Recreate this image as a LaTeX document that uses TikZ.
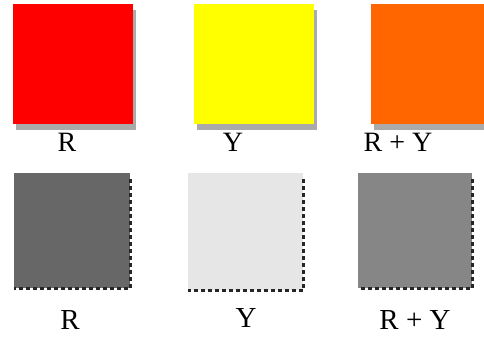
\documentclass[tikz,border=0pt]{standalone}
\usepackage{fontspec}
\setmainfont{Liberation Serif}
\usetikzlibrary{shadows}
\definecolor{cred}{HTML}{FF0000}
\definecolor{cyel}{HTML}{FFFF00}
\definecolor{corg}{HTML}{FF6600}
\definecolor{cshadow}{HTML}{AAAAAA}
\definecolor{gdark}{HTML}{676767}
\definecolor{glight}{HTML}{E6E6E6}
\definecolor{gmid}{HTML}{868686}
\begin{document}
\begin{tikzpicture}[x=1pt,y=-1pt,
  sq/.style={draw=none,inner sep=0pt,minimum width=120pt,minimum height=120pt,
    general shadow={fill=cshadow,shadow xshift=3pt,shadow yshift=-6pt}},
  gsq/.style={draw=none,inner sep=0pt,anchor=north west},
  lbl/.style={inner sep=0pt,font=\fontsize{28}{28}\selectfont},
  lblb/.style={inner sep=0pt,font=\fontsize{29}{29}\selectfont},
  dotedge/.style={draw=black!85,line width=3.2pt,dash pattern=on 3.5pt off 3.5pt}]
\useasboundingbox (0,0) rectangle (484,337);
\clip (0,0) rectangle (484,337);
% top row
\node[sq,fill=cred] (r) at (73,64) {};
\node[sq,fill=cyel] (y) at (254,64) {};
\node[sq,fill=corg] (o) at (431,64) {};
\node[lbl] (rl) at (67,142) {R};
\node[lbl] (yl) at (233,142) {Y};
\node[lbl] (ol) at (398,142) {R + Y};
% bottom row
\node[gsq,fill=gdark,minimum width=116pt,minimum height=115pt] (gr) at (14,173) {};
\node[gsq,fill=glight,minimum width=115pt,minimum height=117pt] (gy) at (188,173) {};
\node[gsq,fill=gmid,minimum width=114pt,minimum height=115pt] (go) at (358,173) {};
\draw[dotedge] ([yshift=-6pt]gr.north east) -- (gr.south east) -- (gr.south west);
\draw[dotedge] ([yshift=-6pt]gy.north east) -- (gy.south east) -- (gy.south west);
\draw[dotedge] ([yshift=-6pt]go.north east) -- (go.south east) -- (go.south west);
\node[lblb] (grl) at (70,320) {R};
\node[lblb] (gyl) at (246,318) {Y};
\node[lblb] (gol) at (415,320) {R + Y};
\end{tikzpicture}
\end{document}
